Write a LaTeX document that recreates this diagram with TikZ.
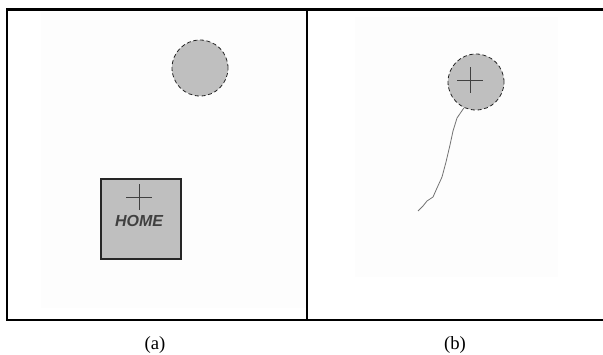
\documentclass[tikz,border=0pt]{standalone}
\usepackage{fontspec}
\setmainfont{Liberation Serif}
\newfontfamily\homefont{Liberation Sans}
\begin{document}
\begin{tikzpicture}[x=0.75pt,y=-0.75pt,
  framel/.style={line width=1.9pt,black},
  panelbg/.style={fill=black!0.6,draw=none},
  ball/.style={circle,fill=black!25,draw=black!85,densely dashed,line width=0.6pt,minimum size=42pt,inner sep=0pt},
  homebox/.style={rectangle,fill=black!25,draw=black!85,line width=0.8pt,minimum size=60pt,inner sep=0pt},
  crossl/.style={draw=black!75,line width=0.7pt},
  trajs/.style={draw=black!55,line width=0.6pt},
  captext/.style={font=\fontsize{14pt}{16pt}\selectfont,inner sep=0pt}]
\useasboundingbox (0,0) rectangle (603,354);
% faint panel backgrounds
\fill[panelbg] (41,12) rectangle (306,308);
\fill[panelbg] (355,17) rectangle (558,277);
% frame
\draw[framel] (603,9.3) -- (7,9.3) -- (7,320) -- (603,320);
\draw[framel] (307,9.3) -- (307,320);
% panel (a)
\node[ball] (ca) at (200,68) {};
\node[homebox] (home) at (141,219) {};
\coordinate (hc) at (139,197);
\draw[crossl] ([xshift=-13*0.75pt]hc) -- ([xshift=13*0.75pt]hc);
\draw[crossl] ([yshift=13*0.75pt]hc) -- ([yshift=-13*0.75pt]hc);
\node[inner sep=0pt,text=black!75,font=\homefont\bfseries\itshape\fontsize{12pt}{13pt}\selectfont] (hl) at (139,221) {HOME};
% panel (b)
\node[ball] (cb) at (476,82) {};
\coordinate (bc) at (470,80);
\draw[crossl] ([xshift=-13*0.75pt]bc) -- ([xshift=13*0.75pt]bc);
\draw[crossl] ([yshift=13*0.75pt]bc) -- ([yshift=-13*0.75pt]bc);
\coordinate (tend) at (418,211);
\draw[trajs] (cb.-115) -- (457,118) -- (453,131) -- (450,145) -- (446,162) -- (442,177) -- (437,188) -- (433,197) -- (427,201) -- (423,206) -- (tend);
% captions
\node[captext] (la) at (155,345) {(a)};
\node[captext] (lb) at (455,345) {(b)};
\end{tikzpicture}
\end{document}
